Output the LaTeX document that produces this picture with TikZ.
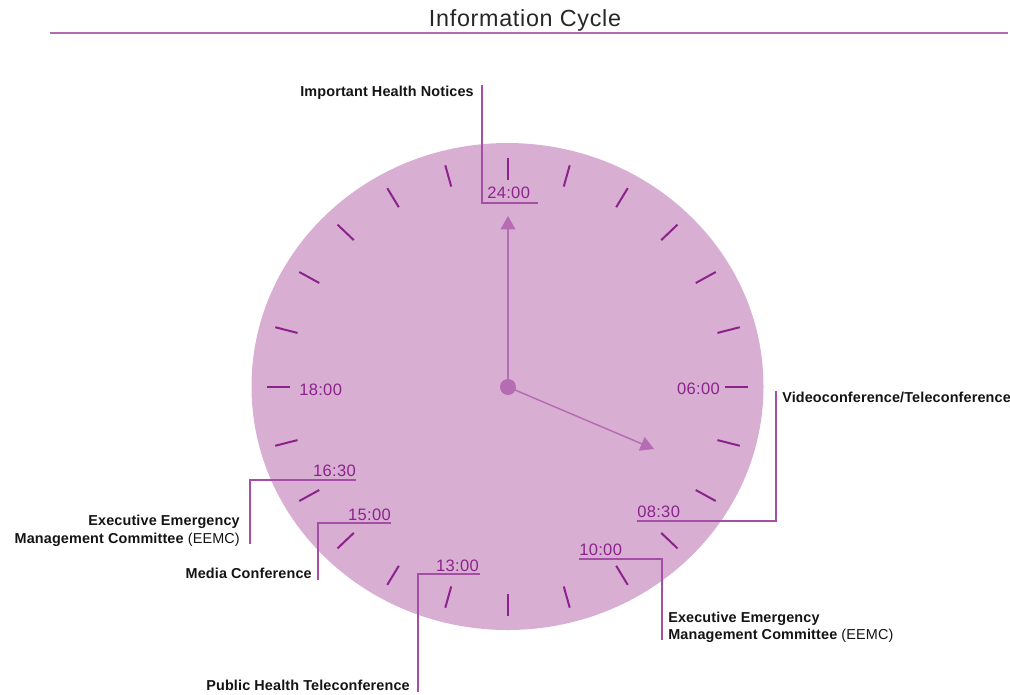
\documentclass[tikz,border=0pt]{standalone}
\usepackage{fontspec}
\setmainfont{Liberation Sans}
\newfontfamily\titlefont[LetterSpace=3]{Liberation Sans}
\newfontfamily\labelfont[LetterSpace=1]{Liberation Sans}
\newfontfamily\timefont[LetterSpace=2]{Liberation Sans}
\usetikzlibrary{arrows.meta,shapes.geometric}
\definecolor{facefill}{RGB}{216,175,211}
\definecolor{tickcol}{RGB}{140,35,140}
\definecolor{handcol}{RGB}{182,108,178}
\definecolor{callcol}{RGB}{165,78,165}
\definecolor{rulecol}{RGB}{176,108,176}
\definecolor{labelcol}{RGB}{20,20,20}
\begin{document}
\begin{tikzpicture}[x=0.75pt,y=-0.75pt,
  titlestyle/.style={inner sep=0pt,font=\titlefont\fontsize{17.5}{20}\selectfont,text=black!85},
  lbl/.style={inner sep=0pt,font=\labelfont\fontsize{10.8}{13}\selectfont\bfseries,text=labelcol},
  timelbl/.style={inner sep=0pt,font=\timefont\fontsize{12.4}{14}\selectfont,text=tickcol},
  tickline/.style={draw=tickcol,line width=1.5pt},
  callout/.style={draw=callcol,line width=1.1pt},
  hand/.style={draw=handcol,line width=1.1pt,-{Triangle[width=11pt,length=10pt]}}]
\useasboundingbox (0,0) rectangle (1010,694);

% title
\node[titlestyle,anchor=base] (title) at (525,26) {Information Cycle};
\coordinate (ruleL) at (50,33);
\coordinate (ruleR) at (1008,33);
\draw[draw=rulecol,line width=1.5pt] (ruleL) -- (ruleR);

% clock face
\node[ellipse,fill=facefill,inner sep=0pt,minimum width=384pt,minimum height=365.25pt] (face) at (507.5,386.5) {};

% ticks
\foreach \a in {0,15,...,345}
  \draw[tickline] ({507.5+1.05*207*sin(\a)},{386.5-207*cos(\a)}) -- ({507.5+1.05*229*sin(\a)},{386.5-229*cos(\a)});

% hands
\node[circle,fill=handcol,inner sep=0pt,minimum size=12pt] (hub) at (508,387) {};
\coordinate (mintip) at (508,216);
\coordinate (hourtip) at (654,449);
\draw[hand] (hub.center) -- (mintip);
\draw[hand] (hub.center) -- (hourtip);

% time labels
\node[timelbl,anchor=base west] (t24) at (487,198) {24:00};
\node[timelbl,anchor=base east] (t06) at (720,394) {06:00};
\node[timelbl,anchor=base west] (t18) at (299,395) {18:00};
\node[timelbl,anchor=base west] (t0830) at (637,517) {08:30};
\node[timelbl,anchor=base west] (t1000) at (579,555) {10:00};
\node[timelbl,anchor=base east] (t1300) at (479,571) {13:00};
\node[timelbl,anchor=base east] (t1500) at (391,520) {15:00};
\node[timelbl,anchor=base east] (t1630) at (356,476) {16:30};

% text labels
\node[lbl,anchor=base east] (notices) at (474,96) {Important Health Notices};
\node[lbl,anchor=base west] (video) at (782,402) {Videoconference/Teleconference};
\node[lbl,anchor=base west] (eemcRa) at (668,622) {Executive Emergency};
\node[lbl,anchor=base west] (eemcRb) at (668,639) {Management Committee \mdseries(EEMC)};
\node[lbl,anchor=base east] (eemcLa) at (240,525) {Executive Emergency};
\node[lbl,anchor=base east] (eemcLb) at (240,543) {Management Committee \mdseries(EEMC)};
\node[lbl,anchor=base east] (media) at (312,578) {Media Conference};
\node[lbl,anchor=base east] (phtc) at (410,690) {Public Health Teleconference};

% callout corners
\coordinate (c24top) at (482,85);
\coordinate (c24end) at (538,203);
\coordinate (cvidtop) at (776,391);
\coordinate (c0830start) at (637,521);
\coordinate (c1630start) at (356,480);
\coordinate (c1630bot) at (250,544);
\coordinate (c1500start) at (391,523);
\coordinate (c1500bot) at (318,580);
\coordinate (c1300start) at (480,574);
\coordinate (c1300bot) at (418,692);
\coordinate (c1000start) at (579,559);
\coordinate (c1000bot) at (662,640);

\draw[callout] (c24top) |- (c24end);
\draw[callout] (c0830start) -| (cvidtop);
\draw[callout] (c1630start) -| (c1630bot);
\draw[callout] (c1500start) -| (c1500bot);
\draw[callout] (c1300start) -| (c1300bot);
\draw[callout] (c1000start) -| (c1000bot);
\end{tikzpicture}
\end{document}
